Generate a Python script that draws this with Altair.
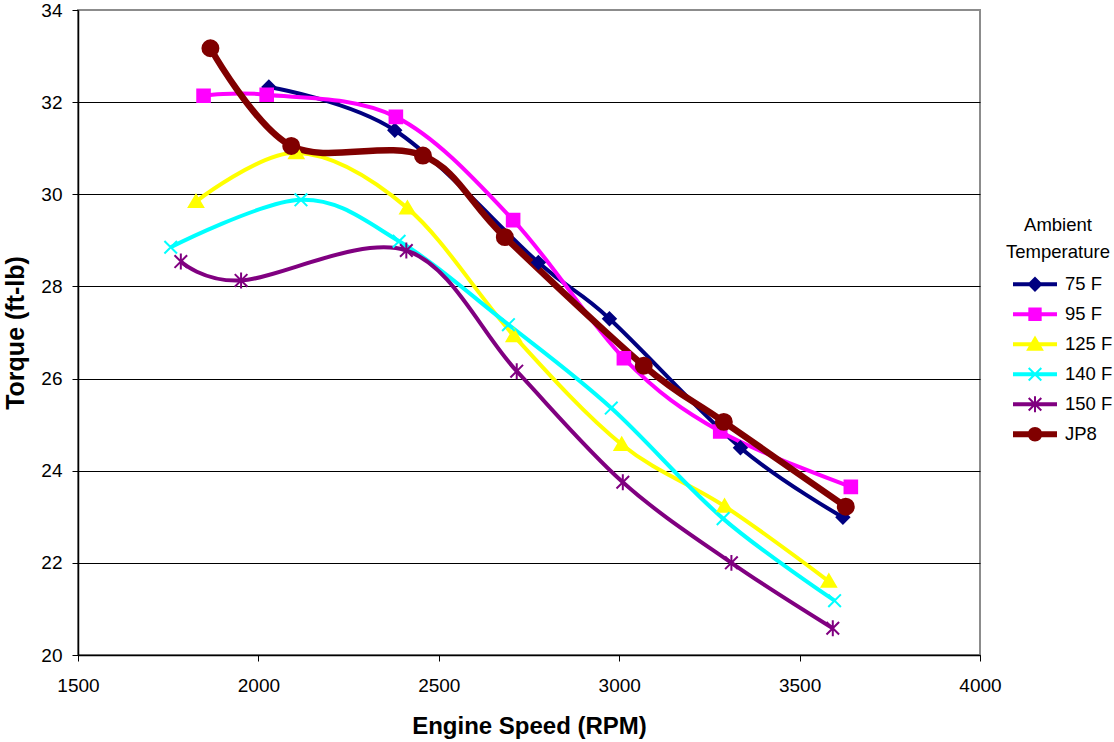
import altair as alt
import pandas as pd

# ---------------- data ----------------
series = ["75 F", "95 F", "125 F", "140 F", "150 F", "JP8"]
colors = ["#000080", "#FF00FF", "#FFFF00", "#00FFFF", "#800080", "#800000"]

rpm_75 = [2029, 2378, 2776, 2973, 3336, 3620]
tq_75 = [32.33, 31.39, 28.52, 27.30, 24.50, 22.99]

rpm_95 = [1848, 2023, 2381, 2706, 3013, 3280, 3642]
tq_95 = [32.14, 32.16, 31.68, 29.44, 26.44, 24.85, 23.65]

rpm_125 = [1827, 2105, 2413, 2708, 3007, 3292, 3581]
tq_125 = [29.84, 30.90, 29.70, 26.93, 24.57, 23.23, 21.60]

rpm_140 = [1757, 2118, 2390, 2693, 2978, 3288, 3597]
tq_140 = [28.85, 29.88, 28.98, 27.17, 25.36, 22.96, 21.18]

rpm_150 = [1785, 1952, 2410, 2716, 3010, 3311, 3592]
tq_150 = [28.54, 28.13, 28.78, 26.16, 23.75, 22.00, 20.58]

rpm_jp8 = [1867, 2091, 2456, 2683, 3068, 3290, 3628]
tq_jp8 = [33.17, 31.05, 30.84, 29.07, 26.28, 25.06, 23.22]

x_ticks = [1500, 2000, 2500, 3000, 3500, 4000]
y_ticks = [20, 22, 24, 26, 28, 30, 32, 34]

rpms = [rpm_75, rpm_95, rpm_125, rpm_140, rpm_150, rpm_jp8]
tqs = [tq_75, tq_95, tq_125, tq_140, tq_150, tq_jp8]

rows = []
for s, xs, ys in zip(series, rpms, tqs):
    for xv, yv in zip(xs, ys):
        rows.append({"series": s, "rpm": xv, "torque": yv})
df = pd.DataFrame(rows)

# ---------------- marker shapes (unit square paths, clockwise) ----------------
diamond = "M0,-0.3L0.3,0L0,0.3L-0.3,0Z"
square = "M-0.3,-0.3H0.3V0.3H-0.3Z"
triangle = "M0,-0.32L0.34,0.26H-0.34Z"
xmark = "M-0.3,-0.3L0.3,0.3M-0.3,0.3L0.3,-0.3"
asterisk = "M-0.3,-0.3L0.3,0.3M-0.3,0.3L0.3,-0.3M0,-0.38V0.38"
circle = "M-0.38,0A0.38,0.38,0,1,1,0.38,0A0.38,0.38,0,1,1,-0.38,0Z"
marker_paths = [diamond, square, triangle, xmark, asterisk, circle]

bar = "M-1,-0.05H1V0.05H-1Z"
bar_thick = "M-1,-0.1H1V0.1H-1Z"
leg_circle = "M-0.3,0A0.3,0.3,0,1,1,0.3,0A0.3,0.3,0,1,1,-0.3,0Z"
legend_paths = [
    bar + diamond,
    bar + "M-0.27,-0.27H0.27V0.27H-0.27Z",
    bar + triangle,
    bar + xmark,
    bar + asterisk,
    bar_thick + leg_circle,
]

FONT = "Liberation Sans"

color_scale = alt.Scale(domain=series, range=colors)

x_enc = alt.X(
    "rpm:Q",
    scale=alt.Scale(domain=[1500, 4000], nice=False, zero=False),
    axis=alt.Axis(
        values=x_ticks, format="d", title="Engine Speed (RPM)", grid=False,
        domainColor="black", domainWidth=1.5, tickColor="black", tickSize=6,
        labelFont=FONT, labelFontSize=19, labelColor="black", labelPadding=15,
        titleFont=FONT, titleFontSize=24, titleFontWeight="bold", titleColor="black",
        titlePadding=19, labelFlush=False,
    ),
)
y_enc = alt.Y(
    "torque:Q",
    scale=alt.Scale(domain=[20, 34], nice=False, zero=False),
    axis=alt.Axis(
        values=y_ticks, format="d", title="Torque (ft-lb)", grid=True,
        gridColor={"condition": {"test": "datum.value === 34", "value": "#8c8c8c"}, "value": "#000000"},
        gridWidth=1,
        domainColor="black", domainWidth=1.5, tickColor="black", tickSize=6,
        labelFont=FONT, labelFontSize=19, labelColor="black", labelPadding=10,
        titleFont=FONT, titleFontSize=25, titleFontWeight="bold", titleColor="black",
        titlePadding=12, labelFlush=False,
    ),
)

lines = alt.Chart(df).mark_line(interpolate="cardinal", tension=0).encode(
    x=x_enc,
    y=y_enc,
    stroke=alt.Stroke("series:N", scale=color_scale, legend=None),
    strokeWidth=alt.condition(alt.datum.series == "JP8", alt.value(6.5), alt.value(4)),
)

points = alt.Chart(df).mark_point(size=1764, strokeWidth=2, opacity=1).encode(
    x=x_enc,
    y=y_enc,
    fill=alt.Fill("series:N", scale=color_scale, legend=None),
    stroke=alt.Stroke("series:N", scale=color_scale, legend=None),
    shape=alt.Shape("series:N", scale=alt.Scale(domain=series, range=marker_paths), legend=None),
)

leg = alt.Legend(
    orient="none", legendX=926, legendY=206, padding=0,
    title=["Ambient", "Temperature"], titleFont=FONT, titleFontSize=18.5,
    titleFontWeight="normal", titleColor="black", titleLineHeight=27,
    titleAnchor="middle", titleAlign="center", titlePadding=8,
    labelFont=FONT, labelFontSize=18.5, labelColor="black", labelOffset=8,
    symbolOffset=9, symbolSize=1764, symbolStrokeWidth=2, symbolOpacity=1,
    clipHeight=29.5, rowPadding=0,
)

legend_layer = alt.Chart(df).mark_point(size=1764, strokeWidth=2, opacity=0).encode(
    x=x_enc,
    y=y_enc,
    fill=alt.Fill("series:N", scale=color_scale, legend=leg),
    stroke=alt.Stroke("series:N", scale=color_scale, legend=leg),
    shape=alt.Shape("series:N", scale=alt.Scale(domain=series, range=legend_paths), legend=leg),
)

chart = (
    alt.layer(lines, points, legend_layer)
    .resolve_scale(shape="independent", fill="independent", stroke="independent")
    .properties(
        width=902,
        height=645,
        padding={"left": 78, "top": 10, "right": 134, "bottom": 87},
        autosize=alt.AutoSizeParams(type="none"),
        background="white",
    )
    .configure_view(stroke="#8c8c8c", strokeWidth=2)
)

chart.save("out.html", embed_options={"renderer": "svg", "actions": False})
